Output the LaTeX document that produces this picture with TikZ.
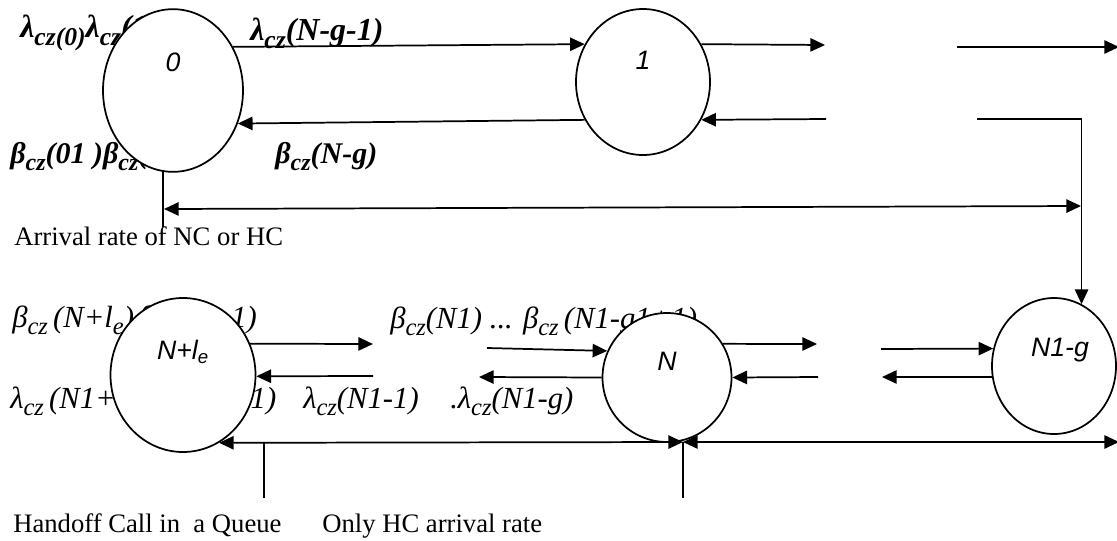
\documentclass[tikz,border=0pt]{standalone}
\usepackage{graphicx}
\usepackage{fontspec}
\setmainfont{Liberation Serif}
\newfontfamily\lsans{Liberation Sans}
\usetikzlibrary{shapes.geometric,arrows.meta}
\newcommand\sbx[1]{\raisebox{-0.25em}{\scalebox{0.8}{#1}}}
\tikzset{
  state/.style={ellipse, draw, fill=white, line width=1.3pt, inner sep=0pt},
  slab/.style={font=\lsans\itshape\fontsize{20}{24}\selectfont, inner sep=0pt},
  conn/.style={line width=1.3pt},
  arr/.style={conn, -{Triangle[length=11pt,width=10pt]}},
  darr/.style={conn, {Triangle[length=11pt,width=10pt]}-{Triangle[length=11pt,width=10pt]}},
  bl/.style={font=\bfseries\itshape\fontsize{24}{28}\selectfont, inner sep=0pt, anchor=base west},
  blb/.style={font=\bfseries\itshape\fontsize{22.5}{27}\selectfont, inner sep=0pt, anchor=base west},
  il/.style={font=\itshape\fontsize{23}{27}\selectfont, inner sep=0pt, anchor=base west},
  pl/.style={font=\fontsize{20}{24}\selectfont, inner sep=0pt, anchor=base west}
}
\begin{document}
\begin{tikzpicture}[x=0.75pt,y=-0.75pt]
\useasboundingbox (0,0) rectangle (1117,540);
% text labels (partly covered by the states)
\node[bl] (t1) at (20,37) {λ\sbx{cz(0)}λ\sbx{cz}(1)};
\node[bl] (t2) at (250,40) {λ\sbx{cz}(N-g-1)};
\node[blb] (t3) at (10,163) {β\sbx{cz}(01 )β\sbx{cz}(02)};
\node[blb] (t4) at (275,163) {β\sbx{cz}(N-g)};
\node[il] (t5) at (12,327) {β\sbx{cz}\,(N+l\sbx{e})\,β\sbx{cz}\,(N+1)};
\node[il] (t6) at (390,328) {β\sbx{cz}(N1) ... β\sbx{cz}\,(N1-g1+1)};
\node[il] (t7) at (10,408) {λ\sbx{cz}\,(N1+l\sbx{e}) ... λ\sbx{cz}(N1)};
\node[il] (t8) at (303,408) {λ\sbx{cz}(N1-1)};
\node[il] (t9) at (450,408) {.λ\sbx{cz}(N1-g)};
\node[pl] (t10) at (14,245) {Arrival rate of NC or HC};
\node[pl] (t11) at (13,532) {Handoff Call in\ \ a Queue};
\node[pl] (t12) at (322,532) {Only HC arrival rate};
% states
\node[state, minimum width=105pt, minimum height=122pt,
  label={[slab, yshift=21pt]center:0}] (c0) at (173,90.5) {};
\node[state, minimum width=100.5pt, minimum height=109.5pt,
  label={[slab, yshift=16.5pt]center:1}] (c1) at (643,82) {};
\node[state, minimum width=108.75pt, minimum height=115.5pt,
  label={[slab, yshift=17pt]center:{N+l\textsubscript{e}}}] (cNle) at (183,375) {};
\node[state, minimum width=96.75pt, minimum height=96.75pt,
  label={[slab, yshift=12pt]center:N}] (cN) at (667,377.5) {};
\node[state, minimum width=93pt, minimum height=102pt,
  label={[slab, yshift=12pt, xshift=4.5pt]center:N1-g}] (cNg) at (1054,366) {};
% top row connectors
\draw[arr] (c0.36) -- (c1.147);
\draw[arr] (c1.213) -- (c0.333);
\coordinate (f1) at (825,45);
\draw[arr] (c1.33) -- (f1);
\coordinate (f2) at (826,119);
\draw[arr] (f2) -- (c1.327);
\coordinate (f3) at (957,47);
\coordinate (f4) at (1119,47);
\draw[arr] (f3) -- (f4);
\coordinate (f5) at (977,119);
\draw[arr] (f5) -| (cNg.66);
\coordinate (v0) at (163,227);
\draw[conn] (c0.263) -- (v0);
\coordinate (dl) at (164,209);
\coordinate (dr) at (1081,206);
\draw[darr] (dl) -- (dr);
% bottom row connectors
\coordinate (g1) at (373,344);
\draw[arr] (cNle.25) -- (g1);
\coordinate (g2) at (373,376);
\draw[arr] (g2) -- (cNle.359);
\coordinate (g3) at (487,348);
\draw[arr] (g3) -- (cN.156);
\coordinate (g4) at (479,377);
\draw[arr] (cN.180) -- (g4);
\coordinate (g5) at (817,344);
\draw[arr] (cN.31) -- (g5);
\coordinate (g6) at (818,377);
\draw[arr] (g6) -- (cN.0);
\coordinate (g7) at (881,349);
\draw[arr] (g7) -- (cNg.164);
\coordinate (g8) at (882,377);
\draw[arr] (cNg.190) -- (g8);
\coordinate (j) at (683,442);
\coordinate (jb) at (683,498);
\coordinate (fR) at (1119,442);
\draw[darr] (cNle.298) -- (j);
\draw[darr] (j) -- (fR);
\draw[conn] (j) -- (jb);
\coordinate (h1) at (264,442);
\coordinate (h2) at (264,498);
\draw[conn] (h1) -- (h2);
\end{tikzpicture}
\end{document}
